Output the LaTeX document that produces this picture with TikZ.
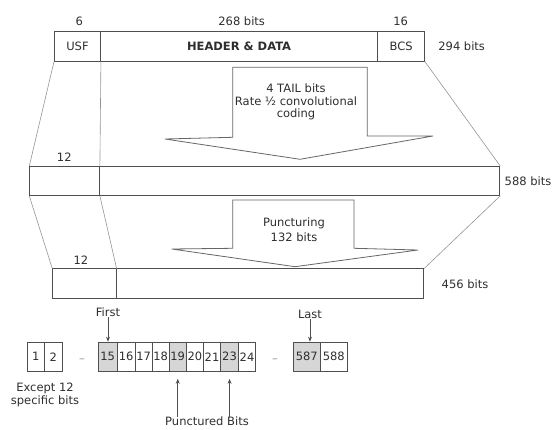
\documentclass[tikz,border=0pt]{standalone}
\usepackage{fontspec}
\setmainfont{DejaVu Sans}
\usetikzlibrary{arrows.meta,calc}
\definecolor{boxc}{HTML}{4F4F4F}
\definecolor{linec}{HTML}{959595}
\definecolor{arrc}{HTML}{666666}
\definecolor{txtc}{HTML}{2E2E2E}
\definecolor{shadec}{HTML}{D6D6D6}
\begin{document}
\begin{tikzpicture}[x=1pt,y=-1pt,
  font=\fontsize{11.5}{12.5}\selectfont, text=txtc,
  seg/.style={draw=boxc, line width=0.9pt, inner sep=0pt, anchor=north west},
  lbl/.style={inner sep=0pt, anchor=center},
  conn/.style={draw=linec, line width=0.6pt},
  blockarrow/.style={draw=arrc, line width=0.8pt, fill=white, line join=miter},
  bit/.style={draw=boxc, line width=0.8pt, inner sep=0pt, anchor=north west, minimum height=29.3pt},
  shaded/.style={fill=shadec},
  ptr/.style={draw=boxc, line width=0.7pt, -{Stealth[length=5pt,width=4pt]}},
  dashmark/.style={inner sep=0pt, text=linec}
]
\useasboundingbox (0,0) rectangle (558,430);

% ---- top row ----
\node[seg, minimum width=46pt, minimum height=29.7pt] (usf) at (54,31) {USF};
\node[seg, minimum width=277.3pt, minimum height=29.7pt, font=\fontsize{11.5}{12.5}\selectfont\bfseries] (hd) at (100,31) {HEADER \& DATA};
\node[seg, minimum width=46.7pt, minimum height=29.7pt] (bcs) at (377.3,31) {BCS};
\node[lbl] (l6) at (79.3,21) {6};
\node[lbl] (l268) at (241.7,21.5) {268 bits};
\node[lbl] (l16) at (400.7,21.5) {16};
\node[lbl] (l294) at (461.7,46.7) {294 bits};

% ---- block arrow 1 ----
\draw[blockarrow] (232.7,67.3) -- (367.3,67.3) -- (367.3,136) -- (433,136) -- (300,159.3) -- (165,139) -- (232.7,137.3) -- cycle;
\node[lbl, align=center] (t1) at (296,102) {4 TAIL bits\\Rate ½ convolutional\\coding};

% ---- second row ----
\node[seg, minimum width=69.7pt, minimum height=29pt] (r2a) at (29.3,166) {};
\node[seg, minimum width=400.3pt, minimum height=29pt] (r2b) at (99,166) {};
\node[lbl] (l12a) at (64.3,157) {12};
\node[lbl] (l588) at (528,181) {588 bits};

% ---- block arrow 2 ----
\draw[blockarrow] (232.7,200) -- (354,200) -- (354,248.3) -- (418,250) -- (295,266.7) -- (171.7,249) -- (232.7,248.3) -- cycle;
\node[lbl, align=center] (t2) at (294,229.5) {Puncturing\\[3pt]132 bits};

% ---- third row ----
\node[seg, minimum width=63.4pt, minimum height=29.5pt] (r3a) at (52.3,268.5) {};
\node[seg, minimum width=307.6pt, minimum height=29.5pt] (r3b) at (115.7,268.5) {};
\node[lbl] (l12b) at (81,260.7) {12};
\node[lbl] (l456) at (465,284) {456 bits};

% ---- connectors ----
\draw[conn] (usf.south west) -- (r2a.north west);
\draw[conn] (usf.south east) -- (r2a.north east);
\draw[conn] (bcs.south east) -- (r2b.north east);
\draw[conn] (r2a.south west) -- (r3a.north west);
\draw[conn] (r2a.south east) -- (r3a.north east);
\draw[conn] (r2b.south east) -- (r3b.north east);

% ---- bit cells ----
\node[bit, minimum width=17.6pt] (c1) at (26.7,341.7) {1};
\node[bit, minimum width=17.4pt] (c2) at (44.3,341.7) {2};
\node[dashmark] (d1) at (82,361) {–};

\node[bit, shaded, minimum width=19pt] (c15) at (97.7,341.7) {15};
\node[bit, minimum width=18.3pt] (c16) at (116.7,341.7) {16};
\node[bit, minimum width=16.7pt] (c17) at (135,341.7) {17};
\node[bit, minimum width=17.3pt] (c18) at (151.7,341.7) {18};
\node[bit, shaded, minimum width=16.7pt] (c19) at (169,341.7) {19};
\node[bit, minimum width=17.6pt] (c20) at (185.7,341.7) {20};
\node[bit, minimum width=16.7pt] (c21) at (203.3,341.7) {21};
\node[bit, shaded, minimum width=18.3pt] (c23) at (220,341.7) {23};
\node[bit, minimum width=16.7pt] (c24) at (238.3,341.7) {24};
\node[dashmark] (d2) at (275,361) {–};

\node[bit, shaded, minimum width=27.3pt] (c587) at (292.7,341.7) {587};
\node[bit, minimum width=26.7pt] (c588) at (320,341.7) {588};

% ---- pointers ----
\node[lbl] (first) at (108,312.5) {First};
\draw[ptr] (first.south) -- (first.south |- c15.north);
\node[lbl] (last) at (310,314.5) {Last};
\draw[ptr] (last.south) -- (last.south |- c587.north);

\node[lbl, align=center] (exc) at (45,395) {Except 12\\specific bits};

\node[lbl] (pb) at (207,421.5) {Punctured Bits};
\draw[ptr, shorten >=7pt] (c19.south |- pb.north) -- (c19.south);
\draw[ptr, shorten >=7pt] (c23.south |- pb.north) -- (c23.south);
\end{tikzpicture}
\end{document}
